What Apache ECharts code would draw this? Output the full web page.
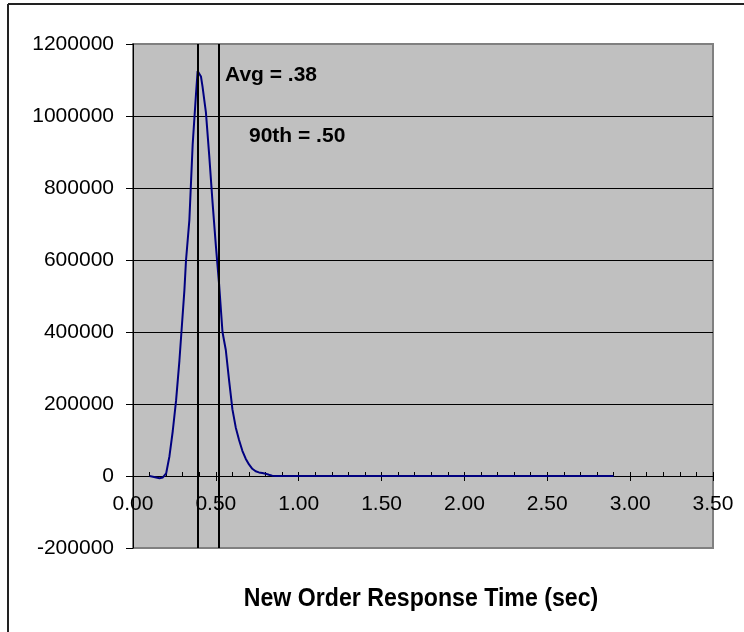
<!DOCTYPE html>
<html>
<head>
<meta charset="utf-8">
<script src="https://cdn.jsdelivr.net/npm/echarts@6/dist/echarts.min.js"></script>
<style>
html,body{margin:0;padding:0;background:#fff;}
#chart{width:744px;height:632px;}
</style>
</head>
<body>
<div id="chart"></div>
<script>
// Response time (sec)
var xValues = [0.10,0.12,0.14,0.16,0.18,0.20,0.22,0.24,0.26,0.28,0.30,0.31,0.32,0.34,0.36,0.38,0.39,0.40,0.41,0.42,0.43,0.44,0.46,0.48,0.50,0.52,0.54,0.56,0.58,0.60,0.62,0.64,0.66,0.68,0.70,0.72,0.74,0.76,0.78,0.80,0.82,0.84,0.86,0.90,1.00,1.10,1.20,1.30,1.40,1.50,1.60,1.70,1.80,1.90,2.00,2.10,2.20,2.30,2.40,2.50,2.60,2.70,2.80,2.90];
// Count of transactions
var yValues = [0,-2000,-4000,-6000,-4000,7000,55000,125000,210000,320000,450000,515000,600000,710000,920000,1060000,1125000,1130000,1110000,1080000,1045000,1010000,890000,760000,640000,530000,400000,350000,265000,185000,135000,100000,70000,48000,32000,20000,13000,10000,8500,6500,3500,1000,0,0,0,0,0,0,0,0,0,0,0,0,0,0,0,0,0,0,0,0,0,0];
// Reference lines (avg, 90th percentile) as drawn
var refLines = [0.386, 0.517];
var refLabels = ['Avg = .38', '90th = .50'];
var yTicks = {min: -200000, max: 1200000, interval: 200000};
var xTicks = {min: 0, max: 3.5, interval: 0.5};
var axisTitle = 'New Order Response Time (sec)';

var FONT = '"Liberation Sans", Arial, sans-serif';
var GRID = {left: 133, right: 31, top: 44, bottom: 84};
var plotH = 632 - GRID.top - GRID.bottom;
// distance of the value 0 above the plot bottom, through the y scale
var zeroOffset = plotH * (0 - yTicks.min) / (yTicks.max - yTicks.min);

var seriesData = xValues.map(function (x, i) { return [x, yValues[i]]; });

var chart = echarts.init(document.getElementById('chart'), null, {renderer: 'canvas'});
chart.setOption({
  animation: false,
  backgroundColor: '#ffffff',
  grid: {
    left: GRID.left, right: GRID.right, top: GRID.top, bottom: GRID.bottom,
    show: true, backgroundColor: '#c0c0c0', borderColor: '#808080', borderWidth: 2
  },
  xAxis: [{
    type: 'value', min: xTicks.min, max: xTicks.max, interval: xTicks.interval,
    position: 'bottom', offset: -zeroOffset,
    axisLine: {show: true, onZero: false, lineStyle: {color: '#000', width: 1}},
    axisTick: {show: true, inside: false, length: 5, lineStyle: {color: '#000'}},
    minorTick: {show: false},
    splitLine: {show: false},
    axisLabel: {
      show: true, margin: 18, color: '#000', fontSize: 21, fontFamily: FONT,
      formatter: function (v) { return v.toFixed(2); }
    }
  }, {
    type: 'value', min: xTicks.min, max: xTicks.max, interval: xTicks.interval,
    position: 'bottom', offset: -zeroOffset,
    axisLine: {show: false, onZero: false},
    axisTick: {show: true, inside: true, length: 4, lineStyle: {color: '#000'}},
    minorTick: {show: true, splitNumber: 5, length: 4, lineStyle: {color: '#000'}},
    splitLine: {show: false},
    axisLabel: {show: false}
  }],
  yAxis: [{
    type: 'value', min: yTicks.min, max: yTicks.max, interval: yTicks.interval,
    axisLine: {show: true, onZero: false, lineStyle: {color: '#000', width: 1}},
    axisTick: {show: true, inside: false, length: 7, lineStyle: {color: '#000'}},
    splitLine: {show: true, showMinLine: false, showMaxLine: false, lineStyle: {color: '#000', width: 1}},
    axisLabel: {margin: 19, color: '#000', fontSize: 21, fontFamily: FONT,
      formatter: function (v) { return String(v); }}
  }],
  series: [{
    type: 'line',
    xAxisIndex: 0, yAxisIndex: 0,
    data: seriesData,
    showSymbol: false, symbol: 'none',
    lineStyle: {color: '#000080', width: 2},
    z: 3,
    markLine: {
      silent: true, symbol: 'none',
      label: {show: false},
      lineStyle: {color: '#000', width: 2, type: 'solid'},
      data: refLines.map(function (v) { return {xAxis: v}; })
    }
  }],
  graphic: [
    {type: 'line', shape: {x1: 8, y1: 4, x2: 744, y2: 4}, style: {stroke: '#222', lineWidth: 2}},
    {type: 'line', shape: {x1: 8, y1: 4, x2: 8, y2: 632}, style: {stroke: '#222', lineWidth: 2}},
    {type: 'text', x: 225, y: 75, style: {text: refLabels[0], fill: '#000', font: 'bold 21px ' + FONT, textVerticalAlign: 'middle'}},
    {type: 'text', x: 249, y: 136, style: {text: refLabels[1], fill: '#000', font: 'bold 21px ' + FONT, textVerticalAlign: 'middle'}},
    {type: 'text', x: 421, y: 599, scaleX: 0.89, style: {text: axisTitle, fill: '#000', font: 'bold 26px ' + FONT, textAlign: 'center', textVerticalAlign: 'middle'}}
  ]
});
</script>
</body>
</html>
